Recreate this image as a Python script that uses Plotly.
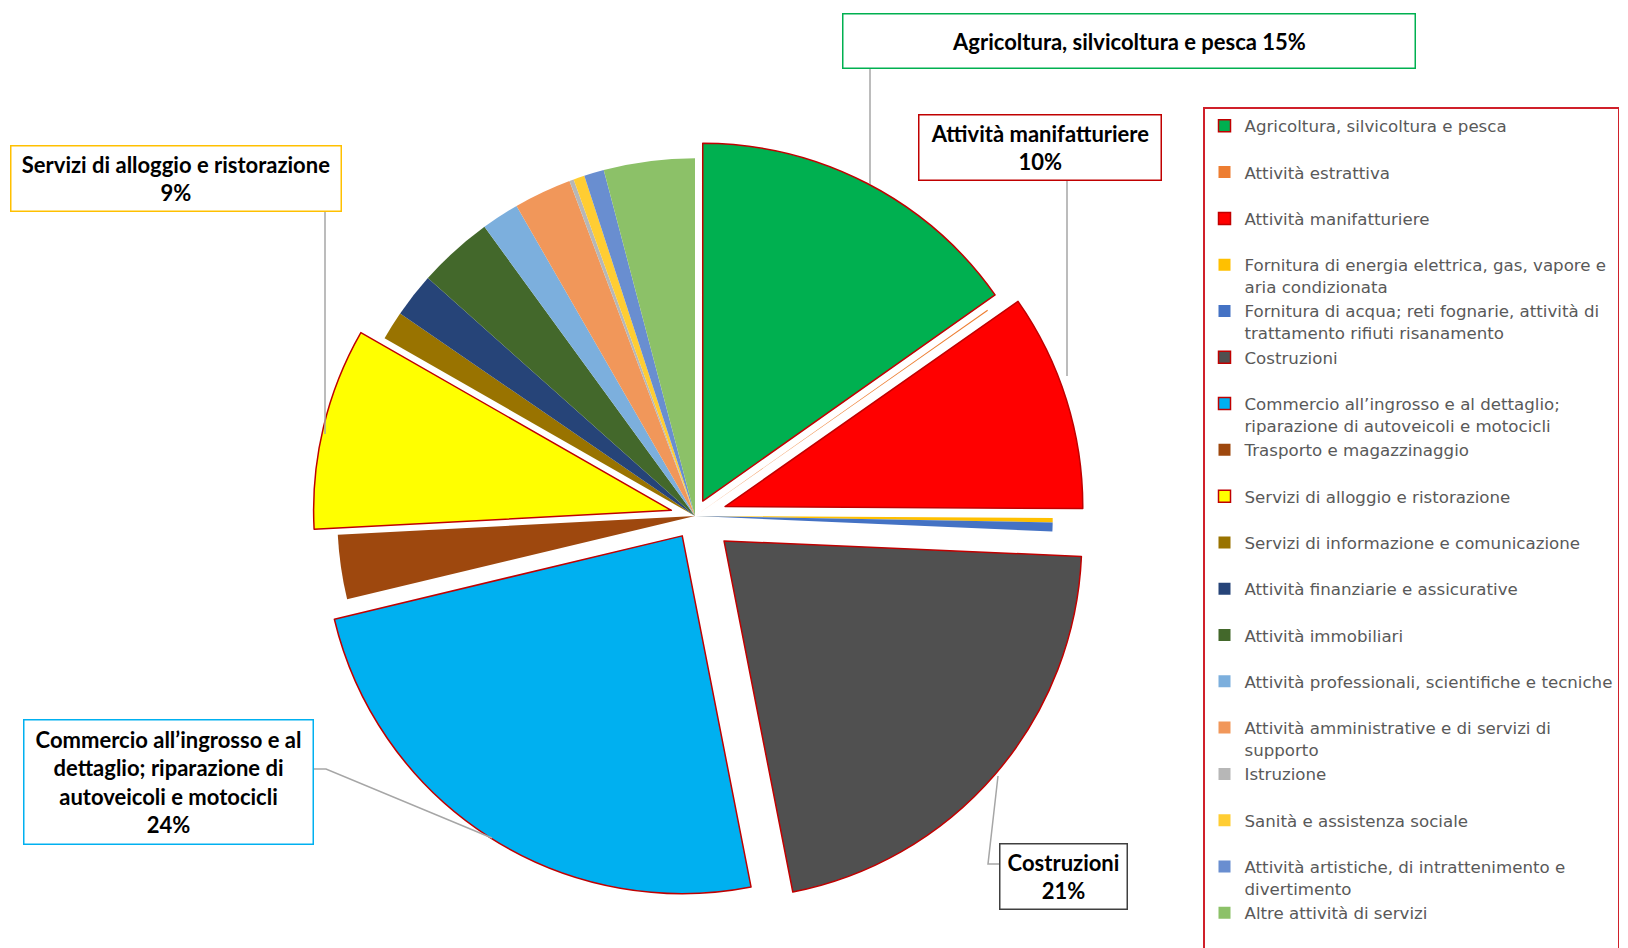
import plotly.graph_objects as go

W, H = 1628, 948

# legend labels (line breaks as in the legend; single-line entries get a blank second line)
settori = [
    "Agricoltura, silvicoltura e pesca<br> ",
    "Attività estrattiva<br> ",
    "Attività manifatturiere<br> ",
    "Fornitura di energia elettrica, gas, vapore e<br>aria condizionata",
    "Fornitura di acqua; reti fognarie, attività di<br>trattamento rifiuti risanamento",
    "Costruzioni<br> ",
    "Commercio all’ingrosso e al dettaglio;<br>riparazione di autoveicoli e motocicli",
    "Trasporto e magazzinaggio<br> ",
    "Servizi di alloggio e ristorazione<br> ",
    "Servizi di informazione e comunicazione<br> ",
    "Attività finanziarie e assicurative<br> ",
    "Attività immobiliari<br> ",
    "Attività professionali, scientifiche e tecniche<br> ",
    "Attività amministrative e di servizi di<br>supporto",
    "Istruzione<br> ",
    "Sanità e assistenza sociale<br> ",
    "Attività artistiche, di intrattenimento e<br>divertimento",
    "Altre attività di servizi<br> ",
]

quote = [15.2, 0.05, 9.8, 0.2, 0.4, 21.2, 24.3, 2.9, 9.1,
         1.3, 2.0, 3.4, 1.7, 2.6, 0.2, 0.5, 0.9, 4.1]

colori = [
    "#00B050", "#ED7D31", "#FF0000", "#FFC000", "#4472C4", "#505050",
    "#00B0F0", "#9E480E", "#FFFF00", "#997300", "#264478", "#43682B",
    "#7CAFDD", "#F1975A", "#B7B7B7", "#FFCD33", "#698ED0", "#8CC168",
]

estrazione = [0.047, 0, 0.088, 0, 0, 0.107, 0.066, 0, 0.068,
              0, 0, 0, 0, 0, 0, 0, 0, 0]

bordo = [1.5, 0, 1.5, 0, 0, 1.5, 1.5, 0, 1.5,
         0, 0, 0, 0, 0, 0, 0, 0, 0]

# callouts: text, border colour, box (x0, y0, x1, y1) in px, leader polyline in px
callout = [
    ("Agricoltura, silvicoltura e pesca 15%", "#00B050",
     (834, 5, 1407, 60), [(862, 60), (862, 176)]),
    ("Attività manifatturiere<br>10%", "#C00000",
     (910, 107, 1153, 173), [(1059, 173), (1059, 368)]),
    ("Servizi di alloggio e ristorazione<br>9%", "#FFC000",
     (2, 138, 333, 204), [(317, 204), (317, 426)]),
    ("Commercio all’ingrosso e al<br>dettaglio; riparazione di<br>autoveicoli e motocicli<br>24%", "#00B0F0",
     (15, 711, 305, 836), [(306, 761), (318, 761), (484, 830)]),
    ("Costruzioni<br>21%", "#404040",
     (991, 835, 1119, 901), [(990, 768), (980, 856), (992, 856)]),
]


def px(x):
    return x / W


def py(y):
    return 1 - y / H


fig = go.Figure(
    go.Pie(
        labels=settori,
        values=quote,
        sort=False,
        direction="clockwise",
        rotation=0,
        pull=estrazione,
        textinfo="none",
        hovertemplate="%{label}: %{percent}<extra></extra>",
        marker=dict(colors=colori, line=dict(color="#C00000", width=bordo)),
        domain=dict(x=[px(687 - 396), px(687 + 396)], y=[py(508 + 396), py(508 - 396)]),
    )
)

for testo, col, (x0, y0, x1, y1), punti in callout:
    path = "M " + " L ".join(f"{px(a)},{py(b)}" for a, b in punti)
    fig.add_shape(
        type="path",
        path=path,
        xref="paper",
        yref="paper",
        line=dict(color="#A6A6A6", width=1.5),
    )
    fig.add_annotation(
        text=f"<b>{testo}</b>",
        x=px((x0 + x1) / 2),
        y=py((y0 + y1) / 2),
        xref="paper",
        yref="paper",
        xanchor="center",
        yanchor="middle",
        showarrow=False,
        width=x1 - x0 - 2,
        height=y1 - y0 - 2,
        align="center",
        bgcolor="white",
        bordercolor=col,
        borderwidth=1.5,
        borderpad=0,
        font=dict(family="Lato", size=22, color="#000000"),
    )

fig.update_layout(
    width=W,
    height=H,
    paper_bgcolor="white",
    plot_bgcolor="white",
    margin=dict(l=0, r=0, t=0, b=0),
    showlegend=True,
    legend=dict(
        x=px(1195),
        y=py(99),
        xanchor="left",
        yanchor="top",
        valign="top",
        bgcolor="white",
        bordercolor="#D0202A",
        borderwidth=1.5,
        itemwidth=30,
        font=dict(family="DejaVu Sans", size=16.65, color="#595959"),
    ),
)

fig.write_html("out.html")
